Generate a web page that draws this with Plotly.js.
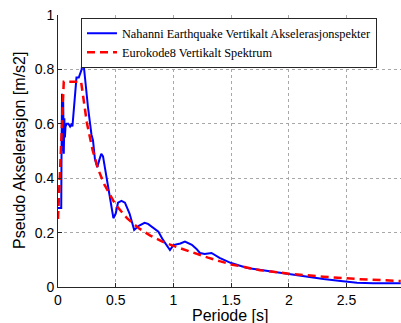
<!DOCTYPE html>
<html>
<head>
<meta charset="utf-8">
<script src="https://cdn.plot.ly/plotly-3.0.1.min.js"></script>
<style>html,body{margin:0;padding:0;background:#fff;}#chart{width:401px;height:323px;}</style>
</head>
<body>
<div id="chart"></div>
<script>
const seriesNames = ["Nahanni Earthquake Vertikalt Akselerasjonspekter", "Eurokode8 Vertikalt Spektrum"];
const xTitle = 'Periode [s]';
const yTitle = 'Pseudo Akselerasjon [m/s2]';

const measuredPeriod = [0, 0.02, 0.028, 0.03, 0.035, 0.04, 0.045, 0.05, 0.055, 0.06, 0.065, 0.075, 0.09, 0.105, 0.12, 0.125, 0.14, 0.16, 0.18, 0.19, 0.205, 0.217, 0.23, 0.26, 0.29, 0.303, 0.32, 0.33, 0.34, 0.36, 0.375, 0.39, 0.41, 0.45, 0.48, 0.5, 0.52, 0.55, 0.58, 0.62, 0.66, 0.7, 0.75, 0.78, 0.82, 0.87, 0.91, 0.97, 1.0, 1.06, 1.1, 1.16, 1.2, 1.23, 1.27, 1.33, 1.4, 1.5, 1.64, 1.75, 1.87, 2.0, 2.1, 2.3, 2.45, 2.59, 2.73, 2.97];
const measuredAccel = [0.29, 0.29, 0.29, 0.45, 0.71, 0.5, 0.68, 0.49, 0.62, 0.55, 0.59, 0.60, 0.60, 0.59, 0.60, 0.59, 0.68, 0.77, 0.77, 0.78, 0.80, 0.84, 0.78, 0.66, 0.56, 0.54, 0.47, 0.45, 0.44, 0.47, 0.49, 0.48, 0.43, 0.33, 0.253, 0.27, 0.31, 0.317, 0.31, 0.27, 0.21, 0.225, 0.236, 0.232, 0.22, 0.203, 0.173, 0.136, 0.154, 0.16, 0.167, 0.155, 0.14, 0.125, 0.121, 0.125, 0.107, 0.088, 0.07, 0.063, 0.056, 0.048, 0.04, 0.029, 0.022, 0.016, 0.0135, 0.0135];

const codePeriod = [0, 0.05, 0.2, 0.25, 0.3, 0.35, 0.4, 0.5, 0.6, 0.7, 0.8, 0.9, 1.0, 1.1, 1.2, 1.3, 1.4, 1.5, 1.75, 2.0, 2.3, 2.6, 2.97];
const codeAccel = [0.25, 0.755, 0.755, 0.604, 0.503, 0.431, 0.378, 0.302, 0.252, 0.216, 0.189, 0.168, 0.151, 0.136, 0.122, 0.108, 0.095, 0.083, 0.062, 0.049, 0.038, 0.029, 0.022];

const xTickVals = [0, 0.5, 1, 1.5, 2, 2.5];
const xTickText = ["0", "0.5", "1", "1.5", "2", "2.5"];
const yTickVals = [0, 0.2, 0.4, 0.6, 0.8, 1];
const yTickText = ["0", "0.2", "0.4", "0.6", "0.8", "1"];

const traces = [
  {x: measuredPeriod, y: measuredAccel, name: seriesNames[0], type: 'scatter', mode: 'lines',
   line: {color: '#0000ff', width: 2}},
  {x: codePeriod, y: codeAccel, name: seriesNames[1], type: 'scatter', mode: 'lines',
   line: {color: '#ff0000', width: 2.5, dash: '8px,5px'}}
];

const sansFont = '"Liberation Sans", Arial, sans-serif';

const axisCommon = {
  showline: true, linecolor: '#262626', linewidth: 1,
  ticks: 'inside', ticklen: 4, tickcolor: '#262626',
  showgrid: true, gridcolor: '#a8a8a8', griddash: 'dot', gridwidth: 1,
  zeroline: false, mirror: false,
  tickfont: {family: sansFont, size: 14, color: '#000'}
};

const layout = {
  width: 401, height: 323,
  margin: {l: 58, r: 0, t: 15, b: 36},
  paper_bgcolor: '#fff', plot_bgcolor: '#fff',
  showlegend: true,
  xaxis: Object.assign({}, axisCommon, {
    range: [0, 2.972], tickmode: 'array', tickvals: xTickVals, ticktext: xTickText
  }),
  yaxis: Object.assign({}, axisCommon, {
    range: [0, 1], tickmode: 'array', tickvals: yTickVals, ticktext: yTickText
  }),
  annotations: [
    {text: xTitle, xref: 'paper', yref: 'paper', x: 0.5, y: 0, xanchor: 'center', yanchor: 'middle',
     yshift: -28, showarrow: false, font: {family: sansFont, size: 16, color: '#000'}},
    {text: yTitle, xref: 'paper', yref: 'paper', x: 0, y: 0.5, xanchor: 'center', yanchor: 'middle',
     xshift: -39, textangle: -90, showarrow: false, font: {family: sansFont, size: 16, color: '#000'}}
  ],
  legend: {
    x: 0.067, y: 0.99, xanchor: 'left', yanchor: 'top',
    bgcolor: '#fff', bordercolor: '#262626', borderwidth: 1,
    font: {family: '"Liberation Serif", serif', size: 12.3, color: '#000'}
  }
};

Plotly.newPlot('chart', traces, layout, {displayModeBar: false, staticPlot: true});
</script>
</body>
</html>
